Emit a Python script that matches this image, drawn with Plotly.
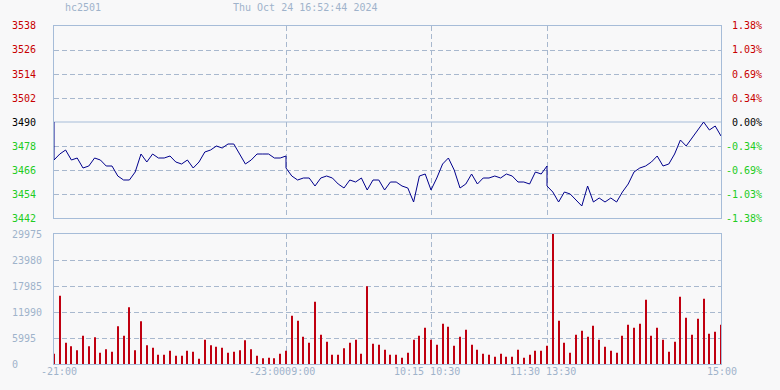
import plotly.graph_objects as go

# ---------------- data ----------------
symbol = "hc2501"
timestamp = "Thu Oct 24 16:52:44 2024"
ref_price = 3490
price_ticks = [3442, 3454, 3466, 3478, 3490, 3502, 3514, 3526, 3538]
vol_ticks = [0, 5995, 11990, 17985, 23980, 29975]
step_min = 3            # minutes between samples
session_breaks = [120, 195, 255]   # elapsed trading minutes at 23:00|09:00, 10:15|10:30, 11:30|13:30
total_minutes = 345

time_labels = ["-21:00", "-23:0009:00", "10:15 10:30", "11:30 13:30", "15:00"]
time_label_minutes = [0, 120, 195, 255, 345]

# night session 21:00-23:00 (elapsed min 0..120)
night_prices = [3471, 3474, 3476, 3471, 3472, 3467, 3468, 3472, 3471, 3468,
                3468, 3463, 3461, 3461, 3465, 3474, 3470, 3474, 3472, 3472,
                3473, 3470, 3469, 3471, 3467, 3470, 3475, 3476, 3478, 3477,
                3479, 3479, 3474, 3469, 3471, 3474, 3474, 3474, 3472, 3472,
                3473]
# morning session 09:00-11:30 (elapsed min 120..255)
morning_prices = [3467, 3463, 3461, 3462, 3462, 3458, 3462, 3463, 3462, 3459,
                  3457, 3461, 3460, 3462, 3456, 3461, 3461, 3456, 3460, 3460,
                  3458, 3457, 3450, 3463, 3464, 3456, 3462, 3469, 3472, 3466,
                  3457, 3459, 3464, 3459, 3462, 3462, 3463, 3462, 3464, 3463,
                  3460, 3460, 3459, 3465, 3464, 3468]
# afternoon session 13:30-15:00 (elapsed min 255..345)
afternoon_prices = [3458, 3455, 3450, 3455, 3454, 3451, 3448, 3458, 3450, 3452,
                    3450, 3452, 3450, 3455, 3459, 3465, 3467, 3468, 3470, 3473,
                    3468, 3469, 3474, 3481, 3478, 3482, 3486, 3490, 3486, 3488,
                    3483]

volumes = [2380, 15760, 4920, 4075, 3150, 6535, 4075, 6150, 2610, 3380,
           2845, 8690, 6535, 13070, 3150, 9840, 4305, 3770, 2150, 2150,
           3075, 1920, 1920, 3075, 2845, 1230, 5610, 4305, 4000, 3770,
           2615, 2845, 3150, 5460, 3380, 1920, 1310, 1460, 1310,
           2380, 3075, 11150, 10000, 6300, 4920, 14380, 6770, 5150, 2150,
           2150, 3615, 4920, 5610, 2380, 17920, 4690, 4460, 3305, 2150,
           2150, 1460, 2615, 5610, 6535, 8380, 5610, 4460, 9300, 8610,
           4230, 6300, 7920, 4460, 3305, 2380, 2150, 1690, 2380,
           1690, 1690, 3305, 1460, 2150, 3075, 3075, 4230, 29975, 10000,
           4920, 2615, 6770, 7690, 6300, 8845, 5610, 4000, 3075, 2615,
           6535, 9075, 8380, 9300, 14840, 6535, 8380, 5610, 2845, 5150,
           15530, 10690, 6770, 10460, 15070, 7000, 7460, 9075]

# ---------------- build x positions (elapsed minutes) ----------------
def minutes(start, n):
    return [start + step_min * k for k in range(n)]

line_x = [0] + minutes(0, len(night_prices)) + minutes(120, len(morning_prices)) + minutes(255, len(afternoon_prices))
line_y = [ref_price] + night_prices + morning_prices + afternoon_prices
vol_x = minutes(0, len(volumes))

# ---------------- style ----------------
W, H = 780, 390
L, R = 54, 721
TOP1, BOT1 = 26, 218
TOP2, BOT2 = 234, 364
bg = "#f8f8f9"
border = "#a6bcd8"
gridc = "#a8b8ce"
dash = "5px,3px"
labc = "#9fb3cb"
red = "#c80000"
barred = "#c00010"
green = "#22cc22"
font = "DejaVu Sans Mono"
fs = 10

fig = go.Figure()
fig.add_trace(go.Scatter(x=line_x, y=line_y, mode="lines",
                         line=dict(color="#00008c", width=1),
                         xaxis="x", yaxis="y", hoverinfo="skip"))
fig.add_trace(go.Bar(x=vol_x, y=volumes, width=0.55,
                     marker=dict(color=barred, line=dict(width=0)),
                     xaxis="x2", yaxis="y2", hoverinfo="skip"))

xcommon = dict(range=[0, total_minutes], tickvals=session_breaks, showticklabels=False,
               showgrid=True, gridcolor=gridc, griddash=dash, gridwidth=1,
               showline=True, mirror=True, linecolor=border, linewidth=1,
               zeroline=False, ticks="", fixedrange=True,
               domain=[L / W, R / W])
fig.update_layout(
    width=W, height=H, margin=dict(l=0, r=0, t=0, b=0),
    paper_bgcolor=bg, plot_bgcolor=bg, showlegend=False,
    xaxis=dict(**xcommon, anchor="y"),
    xaxis2=dict(**xcommon, anchor="y2"),
    yaxis=dict(range=[price_ticks[0], price_ticks[-1]],
               tickvals=[p for p in price_ticks[1:-1] if p != ref_price],
               showticklabels=False, showgrid=True, gridcolor=gridc, griddash=dash,
               showline=True, mirror=True, linecolor=border, linewidth=1,
               zeroline=False, ticks="", domain=[1 - BOT1 / H, 1 - TOP1 / H]),
    yaxis2=dict(range=[vol_ticks[0], vol_ticks[-1]], tickvals=vol_ticks[1:-1],
                showticklabels=False, showgrid=True, gridcolor=gridc, griddash=dash,
                showline=True, mirror=True, linecolor=border, linewidth=1,
                zeroline=False, ticks="", domain=[1 - BOT2 / H, 1 - TOP2 / H]),
    shapes=[dict(type="line", xref="x", yref="y", x0=0, x1=total_minutes,
                 y0=ref_price, y1=ref_price, line=dict(color=border, width=1), layer="below")],
)

ann = []
def txt(text, x, y, xref="paper", yref="paper", xanchor="left", color=labc, xshift=0):
    ann.append(dict(text=text, x=x, y=y, xref=xref, yref=yref, xanchor=xanchor,
                    yanchor="middle", showarrow=False, borderpad=0, borderwidth=0,
                    xshift=xshift, font=dict(family=font, size=fs, color=color)))

for p in price_ticks:
    c = red if p > ref_price else ("#000000" if p == ref_price else green)
    txt(str(p), 12 / W, p, yref="y", color=c)
    pct = (p - ref_price) / ref_price * 100
    txt(f"{pct:.2f}%", 762 / W, p, yref="y", xanchor="right", color=c)

for v in vol_ticks:
    txt(str(v), 12 / W, v, yref="y2", color=labc)

txt(symbol, 65 / W, 1 - 7 / H)
txt(timestamp, 233 / W, 1 - 7 / H)

label_shift = [-13, -37, -37, -37, -14]
for t, m, s in zip(time_labels, time_label_minutes, label_shift):
    txt(t, m, 1 - 371 / H, xref="x2", xshift=s)

fig.update_layout(annotations=ann)
fig.write_html("out.html")
